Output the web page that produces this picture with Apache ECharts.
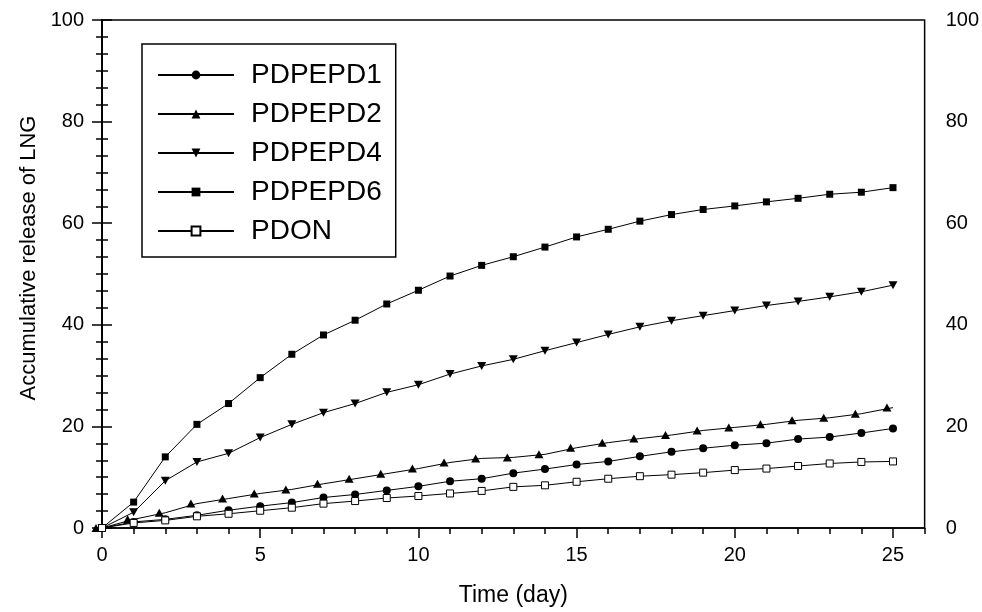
<!DOCTYPE html>
<html>
<head>
<meta charset="utf-8">
<title>Accumulative release of LNG</title>
<script src="https://cdn.jsdelivr.net/npm/echarts@6/dist/echarts.min.js"></script>
<style>
  html, body { margin: 0; padding: 0; background: #fff; }
  #chart { width: 982px; height: 612px; }
</style>
</head>
<body>
<div id="chart"></div>
<script>
// data
var days = [0, 1, 2, 3, 4, 5, 6, 7, 8, 9, 10, 11, 12, 13, 14, 15, 16, 17, 18, 19, 20, 21, 22, 23, 24, 25];
var pdpepd1 = [0, 1.2, 1.7, 2.5, 3.5, 4.3, 5.0, 6.0, 6.6, 7.4, 8.2, 9.2, 9.7, 10.8, 11.6, 12.5, 13.1, 14.1, 15.0, 15.7, 16.3, 16.7, 17.5, 17.9, 18.7, 19.6];
var pdpepd2 = [0, 1.7, 3.0, 4.8, 5.8, 6.8, 7.6, 8.7, 9.7, 10.7, 11.7, 12.9, 13.7, 13.9, 14.5, 15.8, 16.8, 17.6, 18.3, 19.2, 19.8, 20.4, 21.2, 21.7, 22.5, 23.7];
var pdpepd4 = [0, 3.1, 9.3, 13.0, 14.7, 17.8, 20.4, 22.7, 24.5, 26.7, 28.2, 30.3, 31.9, 33.2, 34.9, 36.5, 38.1, 39.6, 40.8, 41.8, 42.8, 43.8, 44.6, 45.5, 46.5, 47.8];
var pdpepd6 = [0, 5.1, 14.0, 20.4, 24.5, 29.6, 34.2, 38.0, 40.9, 44.1, 46.8, 49.6, 51.7, 53.4, 55.3, 57.3, 58.8, 60.4, 61.7, 62.7, 63.4, 64.2, 64.9, 65.7, 66.1, 67.0];
var pdon = [0, 1.0, 1.5, 2.3, 2.8, 3.4, 4.0, 4.8, 5.3, 5.9, 6.3, 6.8, 7.3, 8.1, 8.4, 9.1, 9.7, 10.2, 10.5, 10.9, 11.4, 11.7, 12.2, 12.7, 13.0, 13.1];
var yTicks = [0, 20, 40, 60, 80, 100];

var font = "'Liberation Sans', Arial, sans-serif";
var gridTop = 20, gridBottom = 84;
var gridHeight = 612 - gridTop - gridBottom;

function pairs(ys) {
    return days.map(function (d, i) { return [d, ys[i]]; });
}

function lineSeries(name, ys, symbol, size, itemStyle, extra) {
    var s = {
        name: name,
        type: 'line',
        data: pairs(ys),
        symbol: symbol,
        symbolSize: size,
        showAllSymbol: true,
        lineStyle: { color: '#000', width: 1 },
        itemStyle: itemStyle,
        emphasis: { disabled: true },
        z: 3
    };
    for (var k in extra) s[k] = extra[k];
    return s;
}

var yAxisBase = function (pos, margin) {
    return {
        type: 'value',
        position: pos,
        min: yTicks[0],
        max: yTicks[yTicks.length - 1],
        interval: 20,
        axisLine: { show: true, lineStyle: { color: '#000', width: 1.5 } },
        axisTick: { show: true, length: 10, lineStyle: { color: '#000', width: 1.5 } },
        minorTick: { show: true, splitNumber: 6, length: 6, lineStyle: { color: '#000', width: 1.5 } },
        axisLabel: { color: '#000', fontSize: 20, fontFamily: font, margin: margin },
        splitLine: { show: false }
    };
};

var leftY = yAxisBase('left', 18);
leftY.name = 'Accumulative release of LNG';
leftY.nameLocation = 'middle';
leftY.nameGap = 57;
// padding pushes the rotated title a little upward, as in the figure
leftY.nameTextStyle = { color: '#000', fontSize: 22, fontFamily: font, padding: [0, 0, 0, 32] };

var myChart = echarts.init(document.getElementById('chart'), null, { renderer: 'canvas' });
var option = {
    backgroundColor: '#fff',
    animation: false,
    grid: {
        left: 102, right: 57, top: gridTop, bottom: gridBottom,
        show: true, borderColor: '#000', borderWidth: 1.5
    },
    legend: {
        orient: 'vertical',
        left: 142,
        top: 44,
        padding: [16, 14, 11, 15],
        itemWidth: 76,
        itemHeight: 11,
        itemGap: 9,
        borderColor: '#000',
        borderWidth: 1.5,
        selectedMode: false,
        textStyle: { color: '#000', fontSize: 28, fontFamily: font, lineHeight: 30, padding: [0, 0, 0, 12] },
        data: ['PDPEPD1', 'PDPEPD2', 'PDPEPD4', 'PDPEPD6', 'PDON']
    },
    xAxis: [
        {
            type: 'value',
            position: 'bottom',
            min: 0,
            max: 26,
            interval: 5,
            axisLine: { show: true, lineStyle: { color: '#000', width: 1.5 } },
            axisTick: { show: true, length: 10, lineStyle: { color: '#000', width: 1.5 } },
            axisLabel: { color: '#000', fontSize: 20, fontFamily: font, margin: 17, showMaxLabel: false },
            splitLine: { show: false },
            name: 'Time (day)',
            nameLocation: 'middle',
            nameGap: 56,
            nameTextStyle: { color: '#000', fontSize: 23, fontFamily: font }
        },
        {
            // minor ticks for every day, moved down onto the bottom edge
            type: 'value',
            position: 'top',
            offset: -gridHeight,
            min: 0,
            max: 26,
            interval: 1,
            axisLine: { show: false },
            axisTick: { show: true, inside: true, length: 6, lineStyle: { color: '#000', width: 1.5 } },
            axisLabel: { show: false },
            splitLine: { show: false }
        }
    ],
    yAxis: [leftY, yAxisBase('right', 21)],
    series: [
        lineSeries('PDPEPD1', pdpepd1, 'circle', 8, { color: '#000' }),
        lineSeries('PDPEPD2', pdpepd2, 'triangle', [9, 8], { color: '#000' }, { symbolOffset: [-6, 0] }),
        lineSeries('PDPEPD4', pdpepd4, 'path://M0,0 L10,0 L5,9 Z', [9, 8], { color: '#000' }),
        lineSeries('PDPEPD6', pdpepd6, 'rect', 7, { color: '#000' }),
        lineSeries('PDON', pdon, 'rect', 7, { color: '#fff', borderColor: '#000', borderWidth: 1 })
    ]
};
myChart.setOption(option);
window.addEventListener('resize', function () {
    myChart.resize();
});
</script>
</body>
</html>
